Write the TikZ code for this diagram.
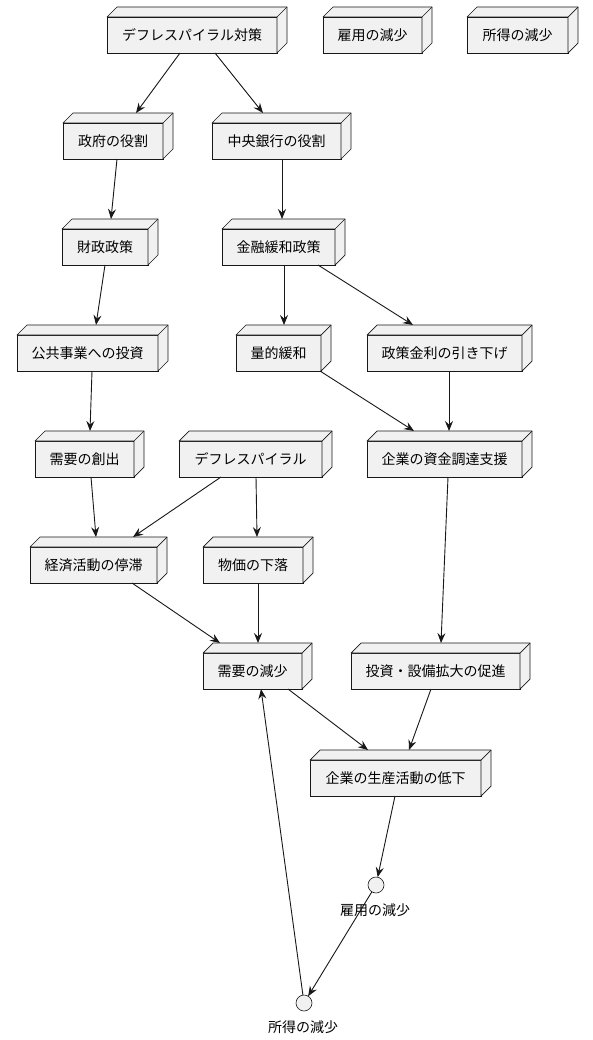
\documentclass[tikz,border=0pt]{standalone}
\usepackage{fontspec}
\setmainfont{Noto Sans CJK JP}
\usetikzlibrary{arrows.meta,calc}
\definecolor{nodefill}{HTML}{F1F1F1}
\definecolor{linec}{HTML}{181818}
\tikzset{
  boxface/.style={draw=linec, fill=nodefill, line width=0.7pt, rectangle, inner sep=0pt, outer sep=0pt,
    minimum height=36pt, font=\fontsize{14pt}{16pt}\selectfont, text=black},
  boxline/.style={draw=linec, fill=nodefill, line width=0.7pt, line join=round},
  circnode/.style={draw=linec, fill=nodefill, line width=0.6pt, circle, minimum size=16pt, inner sep=0pt, outer sep=0pt},
  lbl/.style={font=\fontsize{14pt}{16pt}\selectfont, text=black, inner sep=0pt},
  arrowline/.style={draw=linec, line width=0.9pt, -{Stealth[length=10pt,width=8pt,inset=3.5pt]}}
}
% name, x1, x2, ytop, text
\newcommand\cubenode[5]{%
  \node[boxface, minimum width={(#3-#2)*1pt}] (#1) at ({(#2+#3)/2},{#4+18}) {#5};
  \filldraw[boxline] (#1.north west) -- ++(10pt,10pt) -- ([shift={(10pt,10pt)}]#1.north east)
     -- ([shift={(10pt,10pt)}]#1.south east) -- (#1.south east) -- (#1.north east) -- cycle;
  \draw[boxline] (#1.north east) -- ++(10pt,10pt);
}
\newcommand\arr[4]{%
  \draw[arrowline] ($(#1.south west)+(#2pt,0pt)$) -- ($(#3.north west)+(#4pt,10pt)$);
}
\begin{document}
\begin{tikzpicture}[x=1pt,y=-1pt]
\useasboundingbox (0,0) rectangle (592,1040);
\fill[white] (0,0) rectangle (592,1040);
% row 1
\cubenode{A}{107}{277}{17}{デフレスパイラル対策}
\cubenode{B}{323}{422}{17}{雇用の減少}
\cubenode{C}{467}{568}{17}{所得の減少}
% row 2
\cubenode{D}{63}{163}{123}{政府の役割}
\cubenode{E}{212}{341}{123}{中央銀行の役割}
% row 3
\cubenode{F}{62}{148}{229}{財政政策}
\cubenode{G}{222}{335}{229}{金融緩和政策}
% row 4
\cubenode{H}{17}{158}{335}{公共事業への投資}
\cubenode{I}{236}{321}{335}{量的緩和}
\cubenode{J}{367}{522}{335}{政策金利の引き下げ}
% row 5
\cubenode{K}{35}{134}{441}{需要の創出}
\cubenode{L}{179}{322}{441}{デフレスパイラル}
\cubenode{M}{367}{522}{441}{企業の資金調達支援}
% row 6
\cubenode{N}{30}{157}{547}{経済活動の停滞}
\cubenode{O}{203}{303}{547}{物価の下落}
% row 7
\cubenode{P}{203}{302}{653}{需要の減少}
\cubenode{Q}{351}{520}{653}{投資・設備拡大の促進}
% row 8
\cubenode{R}{310}{481}{760}{企業の生産活動の低下}
% circles
\node[circnode] (koyo) at (376,885) {};
\node[lbl] (koyolbl) at (375,910) {雇用の減少};
\node[circnode] (shotoku) at (304,1003) {};
\node[lbl] (shotokulbl) at (303,1027) {所得の減少};
% edges
\arr{A}{73}{D}{73}
\arr{A}{108}{E}{51}
\arr{D}{54}{F}{49}
\arr{E}{70}{G}{60}
\arr{F}{43}{H}{79}
\arr{G}{62}{I}{48}
\arr{G}{96}{J}{46}
\arr{H}{75}{K}{55}
\arr{I}{84}{M}{47}
\arr{J}{82}{M}{82}
\arr{K}{56}{N}{66}
\arr{L}{42}{N}{103}
\arr{L}{77}{O}{54}
\arr{M}{81}{Q}{90}
\arr{N}{102}{P}{17}
\arr{O}{55}{P}{55}
\arr{P}{85}{R}{58}
\arr{Q}{80}{R}{99}
\draw[arrowline] ($(R.south west)+(85pt,0pt)$) -- (koyo);
\draw[arrowline] (koyo) -- (shotoku);
\draw[arrowline] (shotoku) -- ($(P.south west)+(58pt,0pt)$);
\end{tikzpicture}
\end{document}
